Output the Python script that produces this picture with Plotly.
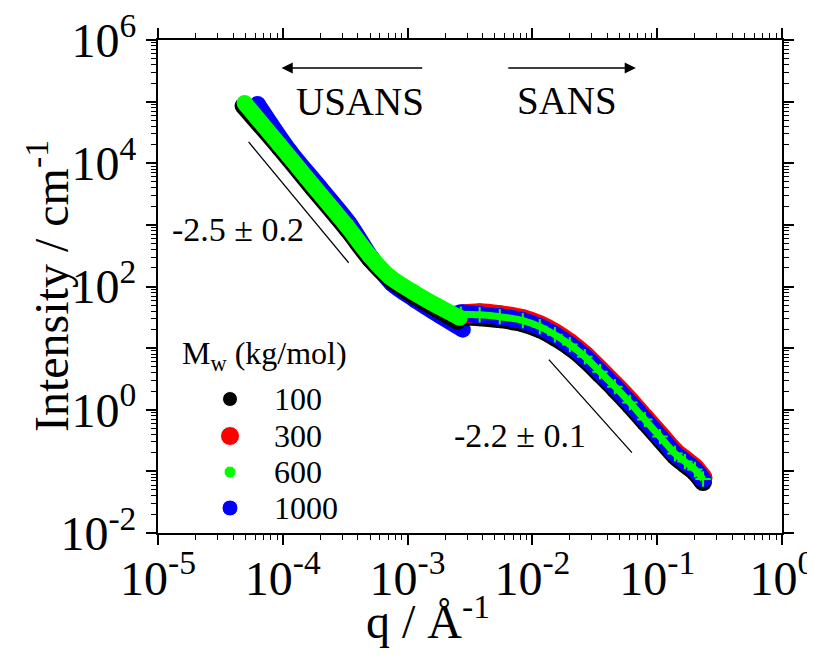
import plotly.graph_objects as go

# ---------------- data ----------------
# USANS branch
q_usans_100 = [4.76e-5, 9.42e-5, 1.73e-4, 3.25e-4, 4.97e-4, 7.18e-4, 1.10e-3, 1.71e-3, 2.52e-3]
I_usans_100 = [8.51e4, 1.71e4, 3850, 832, 272, 129, 70.8, 42, 26.8]
q_usans_600 = [4.94e-5, 9.42e-5, 1.73e-4, 3.25e-4, 4.97e-4, 7.18e-4, 1.10e-3, 1.71e-3, 2.62e-3]
I_usans_600 = [9.5e4, 1.99e4, 4470, 966, 315, 144, 82, 49, 31]
q_usans_1000 = [6.28e-5, 1.135e-4, 1.97e-4, 3.44e-4, 5.15e-4, 7.47e-4, 1.14e-3, 1.81e-3, 2.77e-3]
I_usans_1000 = [9.18e4, 1.59e4, 4140, 1040, 292, 111, 61, 33.6, 19.9]

# SANS branch
q_sans = [2.67e-3, 3.78e-3, 5.48e-3, 8.38e-3, 0.01146, 0.01514, 0.01995, 0.0263, 0.0348,
          0.0458, 0.0604, 0.0796, 0.1052, 0.1387, 0.1667, 0.2004, 0.233]
q_sans_100 = [2.55e-3] + q_sans[1:]
q_sans_300 = [2.52e-3] + q_sans[1:]
I_sans_100 = [33.0, 31.7, 29.5, 25.4, 20.3, 15.0, 10.4, 6.61, 3.78, 2.16, 1.19, 0.630, 0.334, 0.178, 0.131, 0.0975, 0.067]
I_sans_300 = [35.0, 37.5, 34.9, 30.0, 24.0, 17.8, 12.3, 7.82, 4.47, 2.55, 1.41, 0.745, 0.395, 0.21, 0.155, 0.115, 0.079]
I_sans_600 = [35.5, 34.8, 32.4, 27.9, 22.3, 16.5, 11.4, 7.26, 4.15, 2.37, 1.31, 0.692, 0.367, 0.195, 0.144, 0.107, 0.075]
I_sans_1000 = [37.6, 34.8, 32.4, 27.9, 22.3, 16.5, 11.4, 7.26, 4.15, 2.37, 1.31, 0.692, 0.367, 0.195, 0.144, 0.107, 0.0736]

# slope guide lines
guide1_q = [5.32e-5, 3.37e-4]
guide1_I = [2.22e4, 243]
guide2_q = [0.01355, 0.0627]
guide2_I = [6.5, 0.202]

legend_names = ["100", "300", "600", "1000"]
legend_colors = ["#000000", "#ff0000", "#00ff00", "#0000ff"]
legend_sizes = [15, 19, 12, 16]

x_exps = [-5, -4, -3, -2, -1, 0]
y_exps = [-2, -1, 0, 1, 2, 3, 4, 5, 6]

FONT = "Liberation Serif, Times New Roman, serif"

# The page body has an 8px default margin, so the figure is drawn 8px right/down.
# Target plot area on screen: x 158..782, y 40..533.
OFF = 8
W, H = 815, 662
SX0, SX1, SY0, SY1 = 158, 782, 40, 533
L = SX0 - OFF
T = SY0 - OFF
PW, PH = SX1 - SX0, SY1 - SY0
R = W - L - PW
B = H - T - PH


def px(xs):
    return (xs - SX0) / PW


def py(ys):
    return (SY1 - ys) / PH


fig = go.Figure()


def band(q, I, color, width, msize=None):
    msize = msize if msize is not None else width
    fig.add_trace(go.Scatter(
        x=q, y=I, mode="lines+markers",
        line=dict(color=color, width=width, shape="spline", smoothing=0.8),
        marker=dict(color=color, size=msize, opacity=1), showlegend=False, hoverinfo="skip"))


# USANS layers
band(q_usans_1000, I_usans_1000, "#0000ff", 16)
band(q_usans_100, I_usans_100, "#000000", 16)
# SANS layers
band(q_sans_100, I_sans_100, "#000000", 18)
band(q_sans_300, I_sans_300, "#ff0000", 19)
band(q_sans, I_sans_1000, "#0000ff", 17)
# green on top
band(q_usans_600, I_usans_600, "#00ff00", 16)
fig.add_trace(go.Scatter(
    x=q_sans, y=I_sans_600, mode="lines+markers",
    line=dict(color="#00ff00", width=7, shape="spline", smoothing=0.8),
    marker=dict(symbol="cross-thin", size=11, color="#00ff00", opacity=1,
                line=dict(color="#00ff00", width=2)),
    showlegend=False, hoverinfo="skip"))

# guide lines
for gq, gi in [(guide1_q, guide1_I), (guide2_q, guide2_I)]:
    fig.add_trace(go.Scatter(x=gq, y=gi, mode="lines",
                             line=dict(color="black", width=1.3),
                             showlegend=False, hoverinfo="skip"))

# legend: markers on an invisible overlay axis spanning the plot area (0..1)
leg_rows_px = [399, 436, 472, 508]
leg_y = [py(v) for v in leg_rows_px]
leg_x = [px(230)] * len(leg_rows_px)
fig.add_trace(go.Scatter(x=leg_x, y=leg_y, xaxis="x2", yaxis="y2", mode="markers",
                         marker=dict(color=legend_colors, size=legend_sizes, opacity=1),
                         showlegend=False, hoverinfo="skip"))

x_tickvals = [10.0 ** e for e in x_exps]
x_ticktext = ["10<sup>%d</sup>" % e for e in x_exps]
y_tickvals = [10.0 ** e for e in y_exps]
y_ticktext = ["10<sup>%d</sup>" % e if e % 2 == 0 else "" for e in y_exps]
x_minor = [m * 10.0 ** e for e in x_exps[:-1] for m in range(2, 10)]
y_minor = [m * 10.0 ** e for e in y_exps[:-1] for m in range(2, 10)]

axis_common = dict(
    type="log", showgrid=False, zeroline=False, automargin=False,
    showline=True, linecolor="black", linewidth=2, mirror="ticks",
    ticks="outside", ticklen=10, tickwidth=1.5, tickcolor="black",
    ticklabeloverflow="allow",
    tickfont=dict(family=FONT, size=48, color="black"),
)

fig.update_layout(
    xaxis=dict(range=[-5, 0], tickmode="array", tickvals=x_tickvals, ticktext=x_ticktext,
               ticklabelstandoff=-8,
               minor=dict(tickmode="array", tickvals=x_minor, ticks="outside", ticklen=5,
                          tickwidth=1.2, tickcolor="black", showgrid=False),
               **axis_common),
    yaxis=dict(range=[-2, 6], tickmode="array", tickvals=y_tickvals, ticktext=y_ticktext,
               minor=dict(tickmode="array", tickvals=y_minor, ticks="outside", ticklen=5,
                          tickwidth=1.2, tickcolor="black", showgrid=False),
               **axis_common),
    xaxis2=dict(overlaying="x", range=[0, 1], visible=False, automargin=False),
    yaxis2=dict(overlaying="y", range=[0, 1], visible=False, automargin=False),
)

TXT = dict(showarrow=False, xanchor="center", yanchor="middle")
ann = []
# axis titles
ann.append(dict(text="q / Å<sup>-1</sup>", xref="paper", yref="paper", x=px(428), y=py(618),
                font=dict(family=FONT, size=48, color="black"), **TXT))
ann.append(dict(text="Intensity / cm<sup>-1</sup>", xref="paper", yref="paper", x=px(48), y=py(286),
                textangle=-90, font=dict(family=FONT, size=48, color="black"), **TXT))
# region labels
ann.append(dict(text="USANS", xref="paper", yref="paper", x=px(360), y=py(102),
                font=dict(family=FONT, size=39, color="black"), **TXT))
ann.append(dict(text="SANS", xref="paper", yref="paper", x=px(567), y=py(100),
                font=dict(family=FONT, size=39, color="black"), **TXT))
ann.append(dict(text="-2.5 ± 0.2", xref="paper", yref="paper", x=px(238), y=py(230),
                font=dict(family=FONT, size=34, color="black"), **TXT))
ann.append(dict(text="-2.2 ± 0.1", xref="paper", yref="paper", x=px(520), y=py(435),
                font=dict(family=FONT, size=34, color="black"), **TXT))
# legend texts
ann.append(dict(text="M<sub>w</sub> (kg/mol)", xref="paper", yref="paper", x=px(180), y=py(355),
                showarrow=False, xanchor="left", yanchor="middle",
                font=dict(family=FONT, size=32, color="black")))
for name, yv in zip(legend_names, leg_rows_px):
    ann.append(dict(text=name, xref="paper", yref="paper", x=px(272), y=py(yv),
                    showarrow=False, xanchor="left", yanchor="middle",
                    font=dict(family=FONT, size=32, color="black")))
# arrows (log-axis annotation coordinates are log10 values)
ann.append(dict(x=-4.010, y=5.546, ax=-2.871, ay=5.546, xref="x", yref="y", axref="x", ayref="y",
                text="", showarrow=True, arrowhead=2, arrowsize=1.6, arrowwidth=1.4, arrowcolor="black"))
ann.append(dict(x=-1.171, y=5.546, ax=-2.205, ay=5.546, xref="x", yref="y", axref="x", ayref="y",
                text="", showarrow=True, arrowhead=2, arrowsize=1.6, arrowwidth=1.4, arrowcolor="black"))

fig.update_layout(
    width=W, height=H,
    margin=dict(l=L, r=R, t=T, b=B, autoexpand=False),
    paper_bgcolor="white", plot_bgcolor="white",
    font=dict(family=FONT, color="black"),
    annotations=ann,
    showlegend=False,
)

fig.write_html("out.html")
